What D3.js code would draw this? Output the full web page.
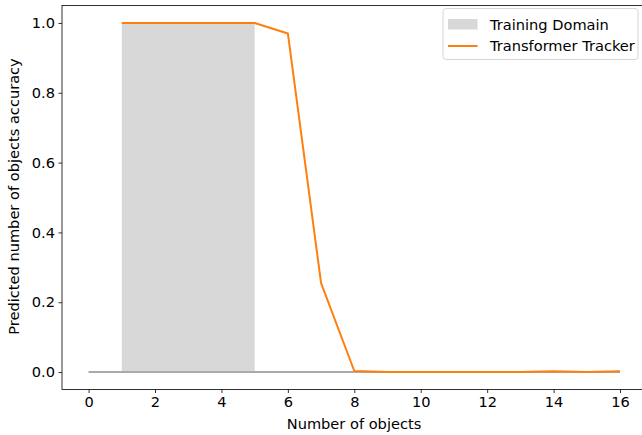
<!DOCTYPE html>
<html><head><meta charset="utf-8">
<script src="https://cdn.jsdelivr.net/npm/d3@7"></script>
<style>body{margin:0;background:#fff}svg{display:block}text{font-family:"DejaVu Sans",sans-serif}</style>
</head><body>
<svg id="c" width="642" height="435"></svg>
<script>
const objectCounts = [1,2,3,4,5,6,7,8,9,10,11,12,13,14,15,16];
const trackerAccuracy = [1.0,1.0,1.0,1.0,1.0,0.97,0.255,0.003,0.0,0.0,0.0,0.0,0.0,0.002,0.0,0.002];
const baselineX = [0,16];
const baselineY = [0,0];
const trainingDomain = [1,5];
const xTicks = [0,2,4,6,8,10,12,14,16];
const yTicks = [0,0.2,0.4,0.6,0.8,1.0];
const legendLabels = ["Training Domain","Transformer Tracker"];

const FS = "14.6px";
const svg = d3.select("#c");
const L = 62, R = 646.6, T = 5.5, B = 389.5;
const x = d3.scaleLinear().domain([-0.8,16.8]).range([L,R]);
const y = d3.scaleLinear().domain([-0.05,1.05]).range([B,T]);

svg.append("rect").attr("x",x(trainingDomain[0])).attr("y",y(1)).attr("width",x(trainingDomain[1])-x(trainingDomain[0])).attr("height",y(0)-y(1)).attr("fill","#d8d8d8");

svg.append("path").datum(baselineX.map((v,i)=>[v,baselineY[i]]))
  .attr("d",d3.line().x(d=>x(d[0])).y(d=>y(d[1])))
  .attr("fill","none").attr("stroke","#aaaaaa").attr("stroke-width",2);

svg.append("path").datum(objectCounts.map((v,i)=>[v,trackerAccuracy[i]]))
  .attr("d",d3.line().x(d=>x(d[0])).y(d=>y(d[1])))
  .attr("fill","none").attr("stroke","#ff7f0e").attr("stroke-width",2).attr("stroke-linejoin","round");

const xa = svg.append("g").attr("transform",`translate(0,${B})`)
  .call(d3.axisBottom(x).tickValues(xTicks).tickFormat(d3.format("d")).tickSize(3.5).tickPadding(3.5).tickSizeOuter(0));
const ya = svg.append("g").attr("transform",`translate(${L},0)`)
  .call(d3.axisLeft(y).tickValues(yTicks).tickFormat(d3.format(".1f")).tickSize(3.5).tickPadding(3.5).tickSizeOuter(0));
[xa,ya].forEach(g=>{g.selectAll("text").attr("font-size",FS).attr("fill","#000").attr("font-family","DejaVu Sans");
  g.selectAll("line").attr("stroke","#000").attr("stroke-width",0.8);
  g.select(".domain").remove();});

svg.append("rect").attr("x",L).attr("y",T).attr("width",R-L).attr("height",B-T).attr("fill","none").attr("stroke","#000").attr("stroke-width",0.8);

svg.append("text").attr("x",354).attr("y",429).attr("text-anchor","middle").attr("font-size",FS).text("Number of objects");
svg.append("text").attr("transform",`translate(19,${(T+B)/2 - 1}) rotate(-90)`).attr("text-anchor","middle").attr("font-size",FS).text("Predicted number of objects accuracy");

const lg = svg.append("g");
lg.append("rect").attr("x",443).attr("y",8.5).attr("width",195).attr("height",51).attr("rx",3).attr("fill","#fff").attr("fill-opacity",0.8).attr("stroke","#cccccc").attr("stroke-width",0.8);
lg.append("rect").attr("x",448).attr("y",19).attr("width",29.5).attr("height",10.5).attr("fill","#d8d8d8");
lg.append("line").attr("x1",448).attr("x2",477.5).attr("y1",46).attr("y2",46).attr("stroke","#ff7f0e").attr("stroke-width",2);
lg.selectAll("text.l").data(legendLabels).join("text").attr("x",490).attr("y",(d,i)=>29.5+i*21.5).attr("font-size",FS).text(d=>d);
</script>
</body></html>
